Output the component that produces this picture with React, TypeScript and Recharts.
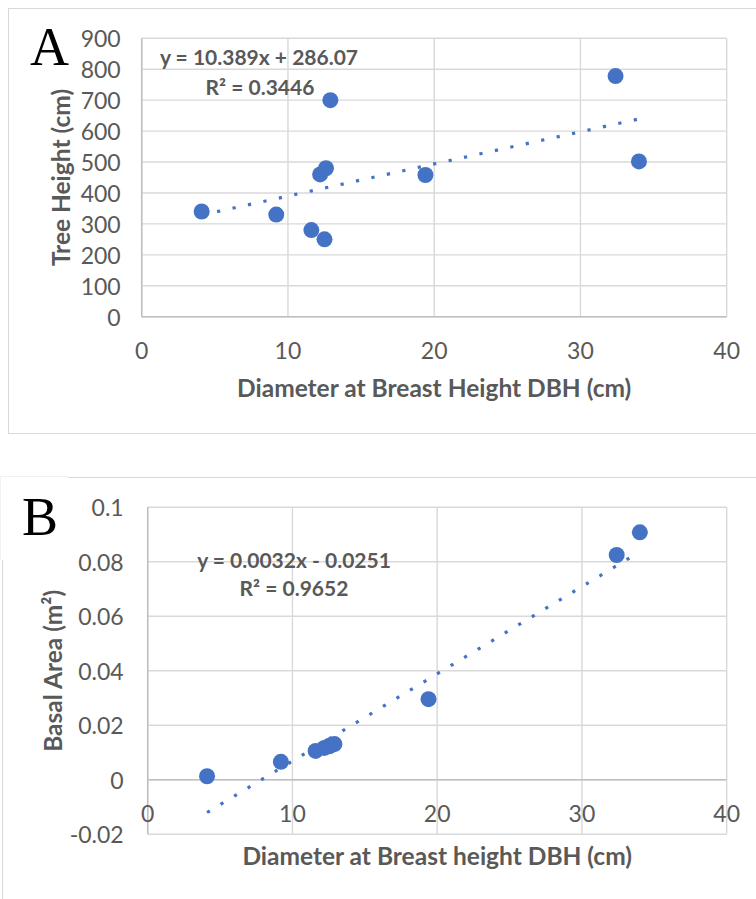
import React from "react";
import { ScatterChart, Scatter, XAxis, YAxis, CartesianGrid, ReferenceLine, Label } from "recharts";

const dbh = [4.1, 9.2, 11.6, 12.2, 12.5, 12.6, 12.9, 19.4, 32.4, 34.0];
const treeHeight = [340, 330, 280, 460, 250, 480, 700, 458, 778, 502];
const basalArea = [0.0013, 0.0066, 0.0106, 0.0117, 0.0123, 0.0125, 0.0131, 0.0296, 0.0825, 0.0908];

const heightTrend = [{ x: 4.1, y: 328.7 }, { x: 34.0, y: 639.3 }];
const areaTrend = [{ x: 4.1, y: -0.012 }, { x: 34.0, y: 0.0837 }];

const xTicks = [0, 10, 20, 30, 40];
const heightTicks = [0, 100, 200, 300, 400, 500, 600, 700, 800, 900];
const areaTicks = [-0.02, 0, 0.02, 0.04, 0.06, 0.08, 0.1];

const heightData = dbh.map((x, i) => ({ x, y: treeHeight[i] }));
const areaData = dbh.map((x, i) => ({ x, y: basalArea[i] }));

const BLUE = "#4472C4";
const TEXT = "#595959";
const GRID = "#D9D9D9";
const AXIS = "#BFBFBF";
const FONT = "Lato, 'Open Sans', sans-serif";
const TICK_SIZE = 23;
const TITLE_SIZE = 24.5;

const fmt = (v: number) => String(parseFloat(v.toFixed(2)));

const Dot = (p: any) => <circle cx={p.cx} cy={p.cy} r={8} fill={BLUE} />;
const NoDot = () => <g />;

const yTick = (dx: number) => (p: any) => (
    <text x={p.x - dx} y={p.y} textAnchor="end" dominantBaseline="central" fontSize={TICK_SIZE} fontFamily={FONT} fill={TEXT}>
        {fmt(p.payload.value)}
    </text>
);
const xTick = (dy: number) => (p: any) => (
    <text x={p.x} y={p.y + dy} textAnchor="middle" dominantBaseline="central" fontSize={TICK_SIZE} fontFamily={FONT} fill={TEXT}>
        {fmt(p.payload.value)}
    </text>
);

const trendLine = { stroke: BLUE, strokeWidth: 3.2, strokeDasharray: "3.2 12.6" };
const titleStyle = { textAnchor: "middle" as const, fontWeight: 700, fontSize: TITLE_SIZE, fontFamily: FONT, fill: TEXT };

function Note({ cx, cy, children }: { cx: number; cy: number; children: React.ReactNode }) {
    return (
        <div style={{ position: "absolute", left: cx, top: cy, transform: "translate(-50%, -50%)", whiteSpace: "nowrap", fontFamily: FONT, fontWeight: 700, fontSize: 21, color: TEXT, lineHeight: 1 }}>
            {children}
        </div>
    );
}

function Letter({ left, top, children }: { left: number; top: number; children: string }) {
    return (
        <div style={{ position: "absolute", left, top, fontFamily: "'Liberation Serif', 'Times New Roman', serif", fontSize: 54, lineHeight: 1, color: "#000" }}>
            {children}
        </div>
    );
}

export default function App() {
    return (
        <div style={{ position: "absolute", left: 0, top: 0, width: 756, height: 899, background: "#fff", overflow: "hidden" }}>
            {/* panel A frame */}
            <div style={{ position: "absolute", left: 8, top: 8, width: 760, height: 426, border: `1.5px solid ${GRID}`, boxSizing: "border-box" }} />
            <div style={{ position: "absolute", left: 0, top: 0 }}>
                <ScatterChart width={756} height={450} margin={{ top: 38.3, right: 29.3, bottom: 53.3, left: 0 }}>
                    <CartesianGrid stroke={GRID} strokeWidth={1.4} />
                    <XAxis type="number" dataKey="x" domain={[0, 40]} ticks={xTicks} tickSize={0} tickMargin={0} tickLine={false}
                        axisLine={{ stroke: AXIS, strokeWidth: 1.5 }} height={80} tick={xTick(33.3)} interval={0}>
                        <Label value="Diameter at Breast Height DBH (cm)" position="insideBottom" offset={0} style={titleStyle} />
                    </XAxis>
                    <YAxis type="number" dataKey="y" domain={[0, 900]} ticks={heightTicks} tickSize={0} tickMargin={0} tickLine={false}
                        axisLine={{ stroke: AXIS, strokeWidth: 1.5 }} width={141.7} tick={yTick(21)} interval={0}>
                        <Label value="Tree Height (cm)" angle={-90} position="insideLeft" offset={61} style={titleStyle} />
                    </YAxis>
                    <Scatter data={heightData} shape={Dot} isAnimationActive={false} />
                    <Scatter data={heightTrend} shape={NoDot} line={trendLine} isAnimationActive={false} />
                </ScatterChart>
            </div>
            <Letter left={30} top={20}>A</Letter>
            <Note cx={259} cy={55.7}>y = 10.389x + 286.07</Note>
            <Note cx={260} cy={85.7}>R² = 0.3446</Note>

            {/* panel B frame */}
            <div style={{ position: "absolute", left: 2, top: 476.5, width: 760, height: 430, border: `1.5px solid ${GRID}`, boxSizing: "border-box" }} />
            <div style={{ position: "absolute", left: 0, top: 476, width: 68, height: 84, background: "#fff", borderTop: "1px solid #f0f0f0", borderLeft: "1px solid #f2f2f2", boxSizing: "border-box" }} />
            <div style={{ position: "absolute", left: 0, top: 460 }}>
                <ScatterChart width={756} height={439} margin={{ top: 47.3, right: 29.3, bottom: 0, left: 0 }}>
                    <CartesianGrid stroke={GRID} strokeWidth={1.4} />
                    <XAxis type="number" dataKey="x" domain={[0, 40]} ticks={xTicks} tickSize={0} tickMargin={0} tickLine={false}
                        axisLine={false} height={64.7} tick={xTick(-21.6)} interval={0}>
                        <Label value="Diameter at Breast height DBH (cm)" position="insideBottom" offset={34} style={titleStyle} />
                    </XAxis>
                    <YAxis type="number" dataKey="y" domain={[-0.02, 0.1]} ticks={areaTicks} tickSize={0} tickMargin={0} tickLine={false}
                        axisLine={{ stroke: AXIS, strokeWidth: 1.5 }} width={147.7} tick={yTick(24)} interval={0}>
                        <Label value="Basal Area (m²)" angle={-90} position="insideLeft" offset={53} style={titleStyle} />
                    </YAxis>
                    <ReferenceLine y={0} stroke={AXIS} strokeWidth={1.5} />
                    <Scatter data={areaData} shape={Dot} isAnimationActive={false} />
                    <Scatter data={areaTrend} shape={NoDot} line={trendLine} isAnimationActive={false} />
                </ScatterChart>
            </div>
            <Letter left={22} top={490}>B</Letter>
            <Note cx={294} cy={559.3}>y = 0.0032x - 0.0251</Note>
            <Note cx={294} cy={586.7}>R² = 0.9652</Note>
        </div>
    );
}
